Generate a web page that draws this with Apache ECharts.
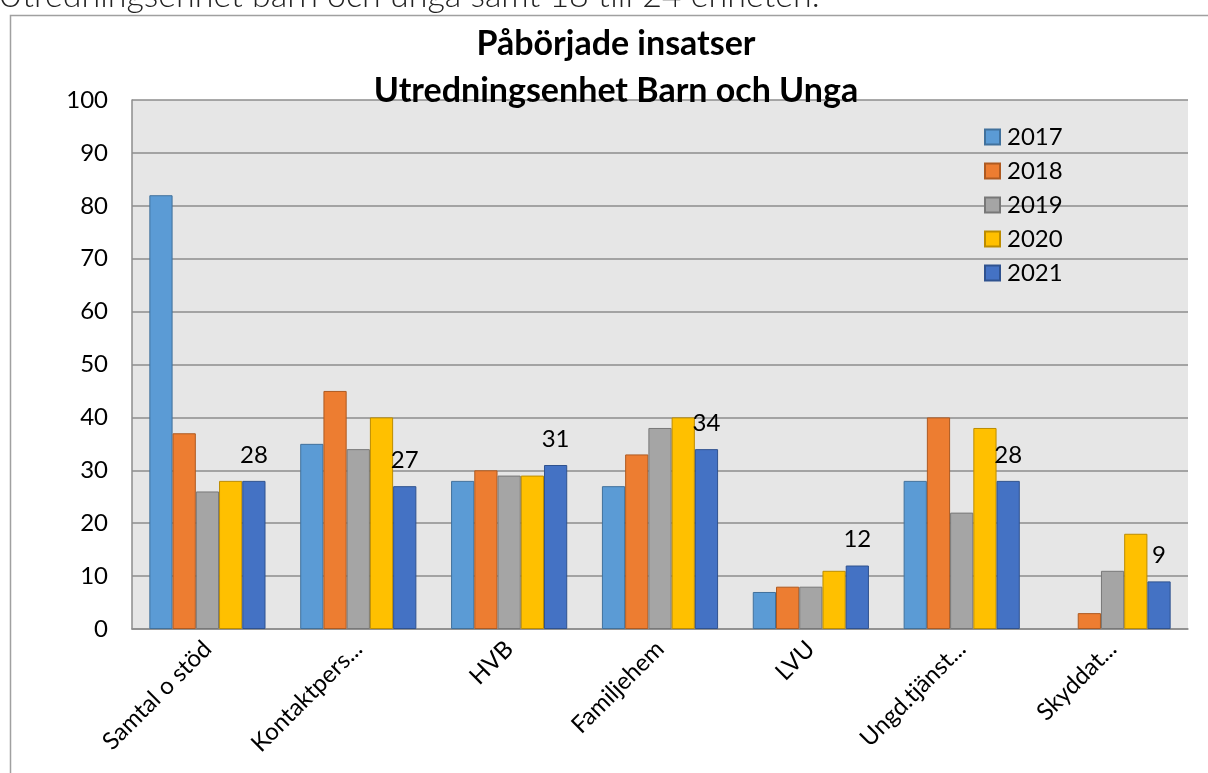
<!DOCTYPE html>
<html>
<head>
<meta charset="utf-8">
<title>Påbörjade insatser</title>
<script src="https://cdn.jsdelivr.net/npm/echarts@6/dist/echarts.min.js"></script>
<style>
  html, body { margin: 0; padding: 0; background: #fff; }
  #chart { width: 1208px; height: 773px; }
</style>
</head>
<body>
<div id="chart"></div>
<script>
// kategorier och värden per år
var categories = ["Samtal o stöd", "Kontaktpers...", "HVB", "Familjehem", "LVU", "Ungd.tjänst...", "Skyddat..."];
var years = ["2017", "2018", "2019", "2020", "2021"];
var v2017 = [82, 35, 28, 27, 7, 28, null];
var v2018 = [37, 45, 30, 33, 8, 40, 3];
var v2019 = [26, 34, 29, 38, 8, 22, 11];
var v2020 = [28, 40, 29, 40, 11, 38, 18];
var v2021 = [28, 27, 31, 34, 12, 28, 9];
var yTicks = { min: 0, max: 100, interval: 10 };

var colors = ["#5B9BD5", "#ED7D31", "#A5A5A5", "#FFC000", "#4472C4"];
var borders = ["#41719C", "#AE5A21", "#787878", "#BC8C00", "#2F528F"];
var font = "Lato";

function makeSeries(name, data, idx, showLabel) {
  return {
    name: name,
    type: "bar",
    data: data,
    barGap: "0%",
    barCategoryGap: "23%",
    itemStyle: {
      color: colors[idx],
      borderColor: borders[idx],
      borderWidth: 1
    },
    label: {
      show: showLabel, // bara 2021 har etiketter
      position: "top",
      distance: 14,
      color: "#000",
      fontFamily: font,
      fontSize: 24
    }
  };
}

var chart = echarts.init(document.getElementById("chart"));
var option = {
  animation: false,
  backgroundColor: "#fff",
  title: {
    text: "Påbörjade insatser\nUtredningsenhet Barn och Unga",
    left: 616,
    textAlign: "center",
    top: 21,
    padding: 0,
    textStyle: {
      fontFamily: font,
      fontWeight: "bold",
      fontSize: 34,
      lineHeight: 47,
      color: "#000"
    }
  },
  graphic: [
    {
      // avskuren rubrik ovanför diagrammet
      type: "text",
      left: -2,
      top: -21,
      z: 10,
      style: {
        text: "Utredningsenhet barn och unga samt 18 till 24 enheten.",
        font: "300 34px Lato",
        fill: "#222"
      }
    },
    {
      type: "polyline",
      z: 10,
      shape: { points: [[10.5, 773], [10.5, 15.5], [1208, 15.5]] },
      style: { stroke: "#A0A0A0", lineWidth: 1.5, fill: null }
    }
  ],
  legend: {
    data: years,
    orient: "vertical",
    left: 984,
    top: 125,
    padding: 0,
    itemWidth: 15,
    itemHeight: 15,
    itemGap: 10,
    icon: "rect",
    textStyle: {
      fontFamily: font,
      fontSize: 24,
      color: "#000",
      padding: [0, 0, 0, 2]
    }
  },
  grid: {
    left: 132,
    right: 20,
    top: 100,
    bottom: 144,
    show: true,
    backgroundColor: "#E6E6E6",
    borderWidth: 0
  },
  xAxis: {
    type: "category",
    data: categories,
    axisLine: { show: true, lineStyle: { color: "#8C8C8C", width: 1.5 } },
    axisTick: { show: false },
    axisLabel: {
      rotate: 45,
      margin: 16,
      interval: 0,
      fontFamily: font,
      fontSize: 24,
      color: "#000"
    }
  },
  yAxis: {
    type: "value",
    min: yTicks.min,
    max: yTicks.max,
    interval: yTicks.interval,
    axisLine: { show: true, lineStyle: { color: "#8C8C8C", width: 1.5 } },
    axisTick: { show: false },
    splitLine: { lineStyle: { color: "#8C8C8C", width: 1.5 } },
    axisLabel: {
      margin: 24,
      fontFamily: font,
      fontSize: 24,
      color: "#000"
    }
  },
  series: [
    makeSeries(years[0], v2017, 0, false),
    makeSeries(years[1], v2018, 1, false),
    makeSeries(years[2], v2019, 2, false),
    makeSeries(years[3], v2020, 3, false),
    makeSeries(years[4], v2021, 4, true)
  ]
};
chart.setOption(option);
</script>
</body>
</html>
